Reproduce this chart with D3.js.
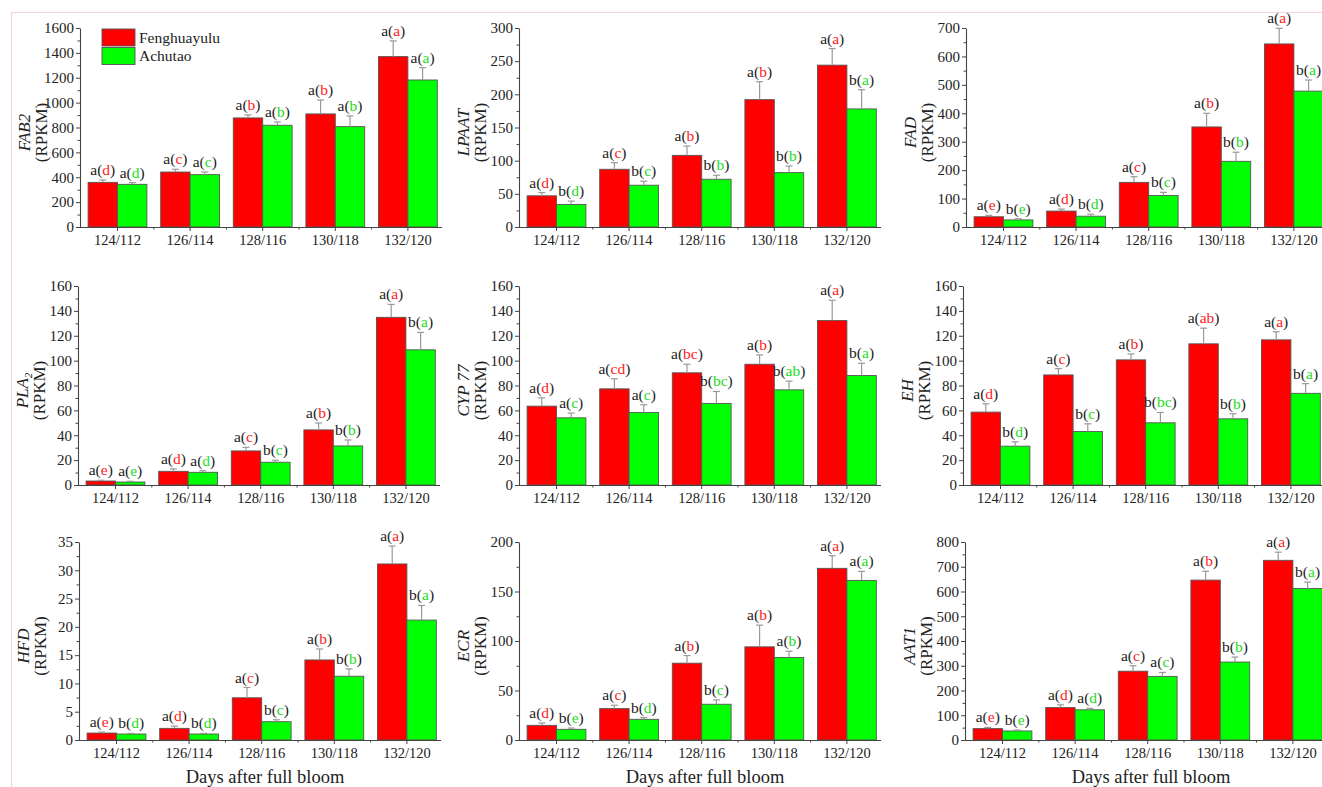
<!DOCTYPE html>
<html>
<head>
<meta charset="utf-8">
<script src="https://cdn.jsdelivr.net/npm/d3@7"></script>
<style>
  body { margin: 0; background: #fff; }
  svg { display: block; }
  text { font-family: "Liberation Serif", "Times New Roman", serif; fill: #222; }
</style>
</head>
<body>
<svg id="chart" width="1322" height="787"></svg>
<script>
// ---- data -------------------------------------------------------------
const categories = ["124/112", "126/114", "128/116", "130/118", "132/120"];
const cultivars = ["Fenghuayulu", "Achutao"];
const genes = ["FAB2", "LPAAT", "FAD", "PLA2", "CYP 77", "EH", "HFD", "ECR", "AAT1"];

// y-axis extent and major tick step for each gene
const axisMax  = [1600, 300, 700, 160, 160, 160, 35, 200, 800];
const axisStep = [200, 50, 100, 20, 20, 20, 5, 50, 100];

// mean RPKM and SD, Fenghuayulu (fh) and Achutao (ac)
const FAB2_fh = [359, 442, 877, 909, 1370],      FAB2_fhSd = [19, 22, 24, 112, 126];
const FAB2_ac = [343, 421, 818, 807, 1182],      FAB2_acSd = [14, 21, 27, 86, 99];
const LPAAT_fh = [47, 87, 108, 192, 244],        LPAAT_fhSd = [5, 10, 14, 27, 25];
const LPAAT_ac = [34, 63, 72, 82, 178],          LPAAT_acSd = [5, 6, 6, 10, 29];
const FAD_fh = [36, 56, 157, 352, 644],          FAD_fhSd = [5, 7, 20, 48, 55];
const FAD_ac = [25, 38, 111, 231, 478],          FAD_acSd = [4, 7, 11, 32, 39];
const PLA2_fh = [3.2, 11, 27.4, 44.3, 134.8],    PLA2_fhSd = [0.6, 2, 2.9, 5.6, 10.4];
const PLA2_ac = [2.4, 10.2, 18.3, 31.4, 108.7],  PLA2_acSd = [0.6, 1.3, 1.6, 4.8, 14];
const CYP77_fh = [63.4, 77.3, 90.2, 97.1, 132.2], CYP77_fhSd = [6.7, 8.1, 6.9, 7.5, 16.3];
const CYP77_ac = [54, 58.3, 65.6, 76.5, 88],     CYP77_acSd = [3.8, 6.2, 9.6, 7, 9.9];
const EH_fh = [58.6, 88.5, 100.6, 113.5, 116.7], EH_fhSd = [6.7, 5.1, 4.8, 12.6, 6.5];
const EH_ac = [31.2, 43, 50, 53.2, 73.7],        EH_acSd = [3.5, 6.2, 8.3, 4.1, 7.8];
const HFD_fh = [1.23, 2.06, 7.46, 14.15, 31.12], HFD_fhSd = [0.17, 0.41, 1.82, 1.94, 3.17];
const HFD_ac = [1.06, 1.06, 3.23, 11.27, 21.2],  HFD_acSd = [0.11, 0.11, 0.35, 1.3, 2.58];
const ECR_fh = [14.8, 31.7, 77.6, 94.1, 173.4],  ECR_fhSd = [2.4, 3.4, 7.7, 21.9, 12.8];
const ECR_ac = [10.8, 20.9, 36.1, 83.3, 161.2],  ECR_acSd = [1.3, 1.7, 4.4, 6.4, 9.1];
const AAT1_fh = [46, 131, 278, 646, 726],        AAT1_fhSd = [5, 11, 22, 36, 33];
const AAT1_ac = [36.5, 122, 257, 315, 612],      AAT1_acSd = [4, 6, 16, 20, 26];

// significance letters: "between cultivars(within cultivar)"
const FAB2_fhSig  = ["a(d)", "a(c)", "a(b)", "a(b)", "a(a)"];
const FAB2_acSig  = ["a(d)", "a(c)", "a(b)", "a(b)", "a(a)"];
const LPAAT_fhSig = ["a(d)", "a(c)", "a(b)", "a(b)", "a(a)"];
const LPAAT_acSig = ["b(d)", "b(c)", "b(b)", "b(b)", "b(a)"];
const FAD_fhSig   = ["a(e)", "a(d)", "a(c)", "a(b)", "a(a)"];
const FAD_acSig   = ["b(e)", "b(d)", "b(c)", "b(b)", "b(a)"];
const PLA2_fhSig  = ["a(e)", "a(d)", "a(c)", "a(b)", "a(a)"];
const PLA2_acSig  = ["a(e)", "a(d)", "b(c)", "b(b)", "b(a)"];
const CYP77_fhSig = ["a(d)", "a(cd)", "a(bc)", "a(b)", "a(a)"];
const CYP77_acSig = ["a(c)", "a(c)", "b(bc)", "b(ab)", "b(a)"];
const EH_fhSig    = ["a(d)", "a(c)", "a(b)", "a(ab)", "a(a)"];
const EH_acSig    = ["b(d)", "b(c)", "b(bc)", "b(b)", "b(a)"];
const HFD_fhSig   = ["a(e)", "a(d)", "a(c)", "a(b)", "a(a)"];
const HFD_acSig   = ["b(d)", "b(d)", "b(c)", "b(b)", "b(a)"];
const ECR_fhSig   = ["a(d)", "a(c)", "a(b)", "a(b)", "a(a)"];
const ECR_acSig   = ["b(e)", "b(d)", "b(c)", "a(b)", "a(a)"];
const AAT1_fhSig  = ["a(e)", "a(d)", "a(c)", "a(b)", "a(a)"];
const AAT1_acSig  = ["b(e)", "a(d)", "a(c)", "b(b)", "b(a)"];

const xTitle = "Days after full bloom";
const yUnit = "(RPKM)";

// ---- assemble panel table ---------------------------------------------
const seriesData = [
  [FAB2_fh, FAB2_fhSd, FAB2_fhSig, FAB2_ac, FAB2_acSd, FAB2_acSig],
  [LPAAT_fh, LPAAT_fhSd, LPAAT_fhSig, LPAAT_ac, LPAAT_acSd, LPAAT_acSig],
  [FAD_fh, FAD_fhSd, FAD_fhSig, FAD_ac, FAD_acSd, FAD_acSig],
  [PLA2_fh, PLA2_fhSd, PLA2_fhSig, PLA2_ac, PLA2_acSd, PLA2_acSig],
  [CYP77_fh, CYP77_fhSd, CYP77_fhSig, CYP77_ac, CYP77_acSd, CYP77_acSig],
  [EH_fh, EH_fhSd, EH_fhSig, EH_ac, EH_acSd, EH_acSig],
  [HFD_fh, HFD_fhSd, HFD_fhSig, HFD_ac, HFD_acSd, HFD_acSig],
  [ECR_fh, ECR_fhSd, ECR_fhSig, ECR_ac, ECR_acSd, ECR_acSig],
  [AAT1_fh, AAT1_fhSd, AAT1_fhSig, AAT1_ac, AAT1_acSd, AAT1_acSig]
];

// ---- layout -------------------------------------------------------------
const axisX = [80, 519, 966, 78, 519, 963, 79, 519, 965];
const rowBase = [227, 485, 740];
const rowTop = [28, 286, 542];
const axisLen = 362;
const barColors = ["#ff0000", "#00ff00"];
const letterColors = ["#ff1a1a", "#22dd22"];

const svg = d3.select("#chart");

// faint frame edge
svg.append("line").attr("x1", 11).attr("x2", 1322).attr("y1", 12.5).attr("y2", 12.5)
  .attr("stroke", "#f6d3e3").attr("stroke-width", 1.2);
svg.append("line").attr("x1", 11.5).attr("x2", 11.5).attr("y1", 12).attr("y2", 787)
  .attr("stroke", "#f6d3e3").attr("stroke-width", 1.2);

genes.forEach((gene, i) => {
  const ax = axisX[i];
  const row = Math.floor(i / 3);
  const y0 = rowBase[row], yT = rowTop[row];
  const [fh, fhSd, fhSig, ac, acSd, acSig] = seriesData[i];
  const vals = [fh, ac], sds = [fhSd, acSd], sigs = [fhSig, acSig];

  const g = svg.append("g");
  const y = d3.scaleLinear().domain([0, axisMax[i]]).range([y0, yT]);
  const x = d3.scaleBand().domain(categories)
    .range([ax + 1.2, ax + 1.2 + 363]).paddingInner(0.19).paddingOuter(0.095);
  const sub = d3.scaleBand().domain([0, 1]).range([0, x.bandwidth()]);

  // bars
  [0, 1].forEach(s => {
    g.selectAll(null).data(categories).join("rect")
      .attr("x", (c) => x(c) + sub(s))
      .attr("width", sub.bandwidth())
      .attr("y", (c, k) => y(vals[s][k]))
      .attr("height", (c, k) => y0 - y(vals[s][k]))
      .attr("fill", barColors[s])
      .attr("stroke", "#555")
      .attr("stroke-width", 0.9);
  });

  // error bars and letters
  [0, 1].forEach(s => {
    categories.forEach((c, k) => {
      const cx = x(c) + sub(s) + sub.bandwidth() / 2;
      const top = y(vals[s][k] + sds[s][k]);
      g.append("line").attr("x1", cx).attr("x2", cx)
        .attr("y1", y(vals[s][k])).attr("y2", top)
        .attr("stroke", "#999").attr("stroke-width", 1.2);
      g.append("line").attr("x1", cx - 3.5).attr("x2", cx + 3.5)
        .attr("y1", top).attr("y2", top)
        .attr("stroke", "#999").attr("stroke-width", 1.2);

      const sig = sigs[s][k];
      const m = sig.match(/^(\w)\((\w+)\)$/);
      const t = g.append("text").attr("x", cx).attr("y", top - 5)
        .attr("text-anchor", "middle").attr("font-size", 15.5);
      t.append("tspan").text(m[1] + "(");
      t.append("tspan").text(m[2]).style("fill", letterColors[s]);
      t.append("tspan").text(")");
    });
  });

  // y axis (major + minor ticks)
  const step = axisStep[i];
  const yAxis = g.append("g").attr("transform", `translate(${ax},0)`)
    .call(d3.axisLeft(y).tickValues(d3.range(0, axisMax[i] + step / 2, step))
      .tickSize(4).tickSizeOuter(0).tickPadding(2).tickFormat(d3.format("")));
  g.append("g").attr("transform", `translate(${ax},0)`)
    .call(d3.axisLeft(y).tickValues(d3.range(step / 2, axisMax[i], step))
      .tickSize(2.5).tickSizeOuter(0).tickFormat(""))
    .call(a => a.select(".domain").remove());

  // x axis
  const xAxis = g.append("g").attr("transform", `translate(0,${y0})`)
    .call(d3.axisBottom(x).tickSize(4).tickSizeOuter(0).tickPadding(4));
  xAxis.select(".domain").attr("d", `M${ax},0.5H${ax + axisLen}`);
  g.append("g").selectAll("line").data(categories.slice(1)).join("line")
    .attr("x1", (c) => x(c) - x.step() * 0.095).attr("x2", (c) => x(c) - x.step() * 0.095)
    .attr("y1", y0).attr("y2", y0 + 2.5)
    .attr("stroke", "#444");

  [yAxis, xAxis].forEach(a => {
    a.selectAll(".domain").attr("stroke", "#444").attr("stroke-width", 1.1);
    a.selectAll(".tick line").attr("stroke", "#444");
  });
  g.selectAll(".tick line").attr("stroke", "#444");
  yAxis.selectAll(".tick text").attr("font-size", 15).attr("font-family", "Liberation Serif").style("fill", "#222");
  xAxis.selectAll(".tick text").attr("font-size", 14.5).attr("font-family", "Liberation Serif").style("fill", "#222");

  // y title: gene name (italic) over unit
  const yc = (y0 + yT) / 2 + 5;
  const title = g.append("text")
    .attr("transform", `translate(${ax - 50},${yc}) rotate(-90)`)
    .attr("text-anchor", "middle").attr("font-size", 17).attr("font-style", "italic");
  if (gene === "PLA2") {
    title.append("tspan").text("PLA");
    title.append("tspan").text("2").attr("font-size", 11).attr("dy", 4);
  } else {
    title.text(gene);
  }
  g.append("text")
    .attr("transform", `translate(${ax - 33},${yc}) rotate(-90)`)
    .attr("text-anchor", "middle").attr("font-size", 17).text(yUnit);

  // x title on the bottom row
  if (row === 2) {
    g.append("text").attr("x", ax + 186).attr("y", 783)
      .attr("text-anchor", "middle").attr("font-size", 18.5).text(xTitle);
  }

  // legend in the first panel
  if (i === 0) {
    const lg = g.append("g");
    cultivars.forEach((name, s) => {
      lg.append("rect").attr("x", 102).attr("y", 29 + s * 18.5)
        .attr("width", 33).attr("height", 17)
        .attr("fill", barColors[s]).attr("stroke", "#555").attr("stroke-width", 0.9);
      lg.append("text").attr("x", 139).attr("y", 42.5 + s * 18.5)
        .attr("font-size", 15.5).text(name);
    });
  }
});
</script>
</body>
</html>
